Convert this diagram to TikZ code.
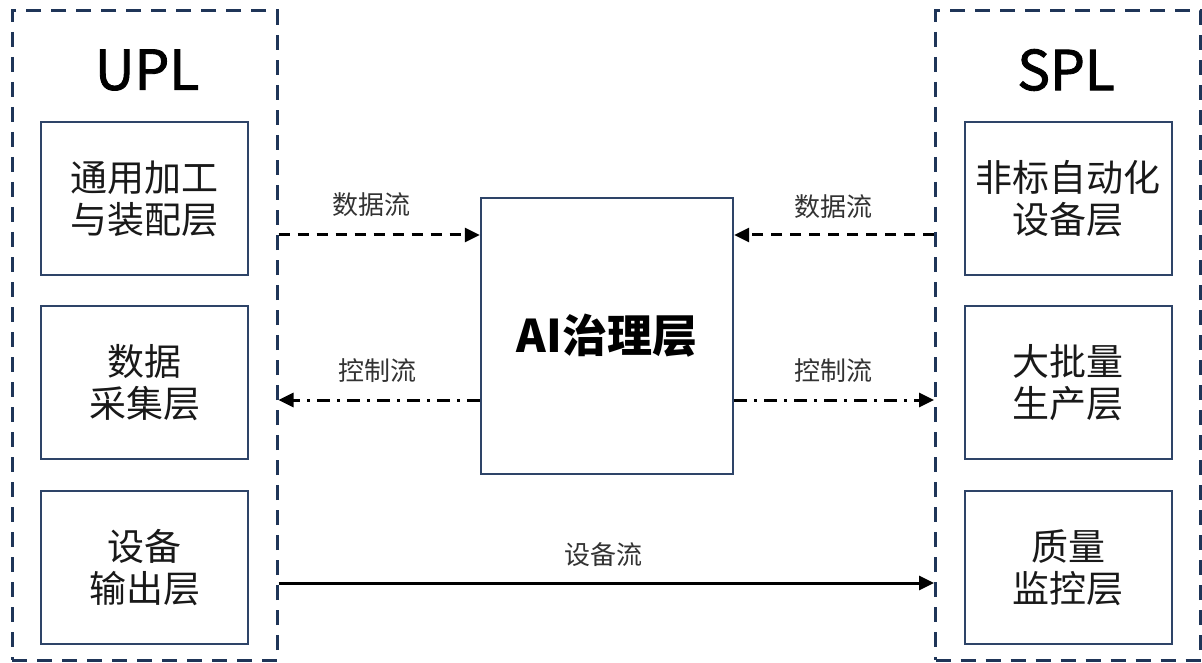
\documentclass[tikz,border=0pt]{standalone}
\usepackage{fontspec}
\setmainfont{Noto Sans CJK SC}
\newfontfamily\titlefont[FakeBold=1.6]{Noto Sans CJK SC}
\usetikzlibrary{arrows.meta}
\definecolor{frameblue}{HTML}{1F3558}
\definecolor{boxblue}{HTML}{2E4468}
\definecolor{lbl}{HTML}{333333}
\tikzset{
  frame/.style={draw=frameblue, line width=3pt, dash pattern=on 15pt off 10pt, minimum width=265pt, minimum height=649pt, inner sep=0pt},
  layerbox/.style={draw=boxblue, line width=2pt, minimum width=207pt, minimum height=153pt, inner sep=0pt, align=center, font=\fontsize{37pt}{42pt}\selectfont, text=black!90},
  aibox/.style={draw=boxblue, line width=2.4pt, minimum width=252pt, minimum height=276pt, inner sep=0pt, font=\fontsize{45pt}{50pt}\selectfont\bfseries},
  title/.style={font=\titlefont\fontsize{55pt}{60pt}\selectfont, text=black},
  flowlbl/.style={font=\fontsize{26pt}{30pt}\selectfont, text=lbl},
  dataflow/.style={line width=3pt, dash pattern=on 11pt off 8pt, -{Triangle[length=15pt,width=14pt]}},
  ctrlflow/.style={line width=3pt, dash pattern=on 13pt off 7pt on 3pt off 7pt, -{Triangle[length=15pt,width=14pt]}},
  devflow/.style={line width=3pt, -{Triangle[length=15pt,width=14pt]}},
}
\begin{document}
\begin{tikzpicture}[x=1pt,y=-1pt]
\useasboundingbox (0,0) rectangle (1202,663);
\fill[white] (0,0) rectangle (1202,663);
% frames
\node[frame] (lframe) at (144.5,335.5) {};
\node[frame] (rframe) at (1068,335.5) {};
\node[title] (upl) at (147,70) {UPL};
\node[title] (spl) at (1066,70) {SPL};
% left boxes
\node[layerbox] (l1) at (144.5,198.5) {通用加工\\与装配层};
\node[layerbox] (l2) at (144.5,382.5) {数据\\采集层};
\node[layerbox] (l3) at (144.5,567.5) {设备\\输出层};
% right boxes
\node[layerbox] (r1) at (1068,198.5) {非标自动化\\设备层};
\node[layerbox] (r2) at (1068,382.5) {大批量\\生产层};
\node[layerbox] (r3) at (1068,567.5) {质量\\监控层};
% center
\node[aibox] (ai) at (607,336) {AI治理层};
% flow rows
\coordinate (yd) at (0,235);
\coordinate (yc) at (0,400);
\coordinate (ye) at (0,583);
\draw[dataflow] (lframe.east |- yd) -- (ai.west |- yd);
\draw[dataflow] (rframe.west |- yd) -- (ai.east |- yd);
\draw[ctrlflow] (ai.west |- yc) -- (lframe.east |- yc);
\draw[ctrlflow] (ai.east |- yc) -- (rframe.west |- yc);
\draw[devflow] (lframe.east |- ye) -- (rframe.west |- ye);
% labels
\node[flowlbl] (ld) at (371,205) {数据流};
\node[flowlbl] (lc) at (377,371) {控制流};
\node[flowlbl] (rd) at (833,207) {数据流};
\node[flowlbl] (rc) at (833,371) {控制流};
\node[flowlbl] (de) at (603,555) {设备流};
\end{tikzpicture}
\end{document}
